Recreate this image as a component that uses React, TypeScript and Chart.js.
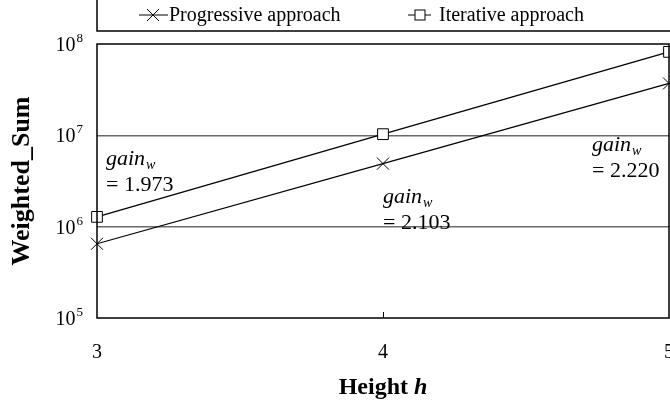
import React, { useEffect, useRef } from "react";
import { Chart, registerables } from "chart.js";

Chart.register(...registerables);

// Tree height h on the x axis
const heights = [3, 4, 5];
// Weighted_Sum per approach
const progressive = [6.5e5, 4.9e6, 3.7e7];
const iterative = [1.28e6, 1.03e7, 8.2e7];
// Ratio iterative / progressive written next to each height
const gainValues = ["1.973", "2.103", "2.220"];
// Decades shown on the logarithmic axis
const yTickValues = [1e5, 1e6, 1e7, 1e8];
const seriesNames = ["Progressive approach", "Iterative approach"];

const FONT = '"Liberation Serif", "Times New Roman", serif';
const CANVAS_W = 690;
const CANVAS_H = 408;

function drawCross(ctx: CanvasRenderingContext2D, x: number, y: number, h: number) {
  ctx.beginPath();
  ctx.moveTo(x - h, y - h);
  ctx.lineTo(x + h, y + h);
  ctx.moveTo(x - h, y + h);
  ctx.lineTo(x + h, y - h);
  ctx.stroke();
}

function drawSquare(ctx: CanvasRenderingContext2D, x: number, y: number, h: number) {
  ctx.fillStyle = "#fff";
  ctx.fillRect(x - h, y - h, 2 * h, 2 * h);
  ctx.strokeRect(x - h, y - h, 2 * h, 2 * h);
}

const decorations = {
  id: "decorations",
  afterDraw(chart: any) {
    const ctx: CanvasRenderingContext2D = chart.ctx;
    const { left, right, top, bottom } = chart.chartArea;
    const xs = chart.scales.x;
    const ys = chart.scales.y;
    ctx.save();
    ctx.strokeStyle = "#000";
    ctx.fillStyle = "#000";

    // plot frame
    ctx.lineWidth = 1.5;
    ctx.strokeRect(left, top, right - left, bottom - top);

    // inner tick marks on the x axis
    ctx.lineWidth = 1;
    heights.slice(1, -1).forEach((h) => {
      const px = Math.round(xs.getPixelForValue(h)) + 0.5;
      ctx.beginPath();
      ctx.moveTo(px, bottom);
      ctx.lineTo(px, bottom - 6);
      ctx.stroke();
    });

    // y tick labels as powers of ten
    ctx.textBaseline = "alphabetic";
    yTickValues.forEach((v) => {
      const py = ys.getPixelForValue(v);
      const exp = String(Math.round(Math.log10(v)));
      ctx.font = `20px ${FONT}`;
      const baseW = ctx.measureText("10").width;
      ctx.font = `13px ${FONT}`;
      const expW = ctx.measureText(exp).width;
      const endX = left - 14;
      const startX = endX - expW - baseW - 1;
      ctx.font = `20px ${FONT}`;
      ctx.textAlign = "left";
      ctx.fillText("10", startX, py + 7);
      ctx.font = `13px ${FONT}`;
      ctx.fillText(exp, startX + baseW + 1, py - 2);
    });

    // axis titles
    ctx.textAlign = "center";
    ctx.textBaseline = "middle";
    ctx.font = `bold 26px ${FONT}`;
    ctx.save();
    ctx.translate(22, (top + bottom) / 2);
    ctx.rotate(-Math.PI / 2);
    ctx.fillText("Weighted_Sum", 0, 0);
    ctx.restore();

    ctx.textBaseline = "alphabetic";
    ctx.textAlign = "left";
    ctx.font = `bold 24px ${FONT}`;
    const partA = "Height ";
    const wA = ctx.measureText(partA).width;
    ctx.font = `italic bold 24px ${FONT}`;
    const wB = ctx.measureText("h").width;
    const cx = (left + right) / 2;
    const tx = cx - (wA + wB) / 2;
    ctx.font = `bold 24px ${FONT}`;
    ctx.fillText(partA, tx, 394);
    ctx.font = `italic bold 24px ${FONT}`;
    ctx.fillText("h", tx + wA, 394);

    // gain annotations
    const anchors = [
      { x: xs.getPixelForValue(heights[0]) + 9, y: top + 121 },
      { x: xs.getPixelForValue(heights[1]), y: top + 159 },
      { x: xs.getPixelForValue(heights[2]) - 77, y: top + 107 },
    ];
    anchors.forEach((a, i) => {
      ctx.font = `italic 22px ${FONT}`;
      ctx.fillText("gain", a.x, a.y);
      const gw = ctx.measureText("gain").width;
      ctx.font = `italic 14px ${FONT}`;
      ctx.fillText("w", a.x + gw + 1, a.y + 4);
      ctx.font = `22px ${FONT}`;
      ctx.fillText("= " + gainValues[i], a.x, a.y + 26);
    });

    // legend box
    ctx.lineWidth = 1.5;
    ctx.strokeRect(left, -10, CANVAS_W, 41);
    const ly = 15;
    ctx.lineWidth = 1;
    ctx.font = `20px ${FONT}`;
    ctx.textBaseline = "middle";
    ctx.textAlign = "left";
    // progressive entry
    ctx.beginPath();
    ctx.moveTo(139, ly);
    ctx.lineTo(168, ly);
    ctx.stroke();
    drawCross(ctx, 153, ly, 6);
    ctx.fillStyle = "#000";
    ctx.fillText(seriesNames[0], 169, ly + 1);
    // iterative entry
    ctx.beginPath();
    ctx.moveTo(408, ly);
    ctx.lineTo(431, ly);
    ctx.stroke();
    drawSquare(ctx, 420, ly, 5);
    ctx.fillStyle = "#000";
    ctx.fillText(seriesNames[1], 439, ly + 1);

    ctx.restore();
  },
};

export default function App() {
  const canvasRef = useRef<HTMLCanvasElement | null>(null);

  useEffect(() => {
    const canvas = canvasRef.current;
    if (!canvas) return;
    Chart.defaults.font.family = FONT;
    const chart = new Chart(canvas, {
      type: "line",
      data: {
        datasets: [
          {
            label: seriesNames[0],
            data: heights.map((h, i) => ({ x: h, y: progressive[i] })),
            borderColor: "#000",
            borderWidth: 1.2,
            pointStyle: "crossRot",
            pointRadius: 8.5,
            pointBorderWidth: 1,
            pointBorderColor: "#000",
            pointBackgroundColor: "#000",
            clip: false as any,
          },
          {
            label: seriesNames[1],
            data: heights.map((h, i) => ({ x: h, y: iterative[i] })),
            borderColor: "#000",
            borderWidth: 1.2,
            pointStyle: "rect",
            pointRadius: 7.6,
            pointBorderWidth: 1,
            pointBorderColor: "#000",
            pointBackgroundColor: "#fff",
            clip: false as any,
          },
        ],
      },
      options: {
        responsive: false,
        animation: false,
        devicePixelRatio: 1,
        layout: { padding: { top: 44, right: 21, left: 0, bottom: 0 } },
        plugins: {
          legend: { display: false },
          tooltip: { enabled: false },
        },
        scales: {
          x: {
            type: "linear",
            min: 3,
            max: 5,
            afterBuildTicks: (s: any) => {
              s.ticks = heights.map((v) => ({ value: v }));
            },
            afterFit: (s: any) => {
              s.height = 90;
            },
            grid: { display: false },
            border: { display: false },
            ticks: {
              color: "#000",
              font: { size: 20, family: FONT },
              padding: 15,
              maxRotation: 0,
              callback: (v: any) => String(v),
            },
          },
          y: {
            type: "logarithmic",
            min: 1e5,
            max: 1e8,
            afterBuildTicks: (s: any) => {
              s.ticks = yTickValues.map((v) => ({ value: v }));
            },
            afterFit: (s: any) => {
              s.width = 97;
            },
            border: { display: false },
            grid: {
              drawTicks: false,
              lineWidth: 1.5,
              color: (c: any) =>
                c.tick && (c.tick.value === 1e6 || c.tick.value === 1e7) ? "#6a6a6a" : "rgba(0,0,0,0)",
            },
            ticks: { display: false },
          },
        },
      },
      plugins: [decorations],
    });
    return () => chart.destroy();
  }, []);

  return (
    <div
      style={{
        position: "fixed",
        left: 0,
        top: 0,
        width: 670,
        height: 408,
        overflow: "hidden",
        background: "#fff",
      }}
    >
      <canvas
        ref={canvasRef}
        width={CANVAS_W}
        height={CANVAS_H}
        style={{ display: "block", width: CANVAS_W, height: CANVAS_H }}
      />
    </div>
  );
}
